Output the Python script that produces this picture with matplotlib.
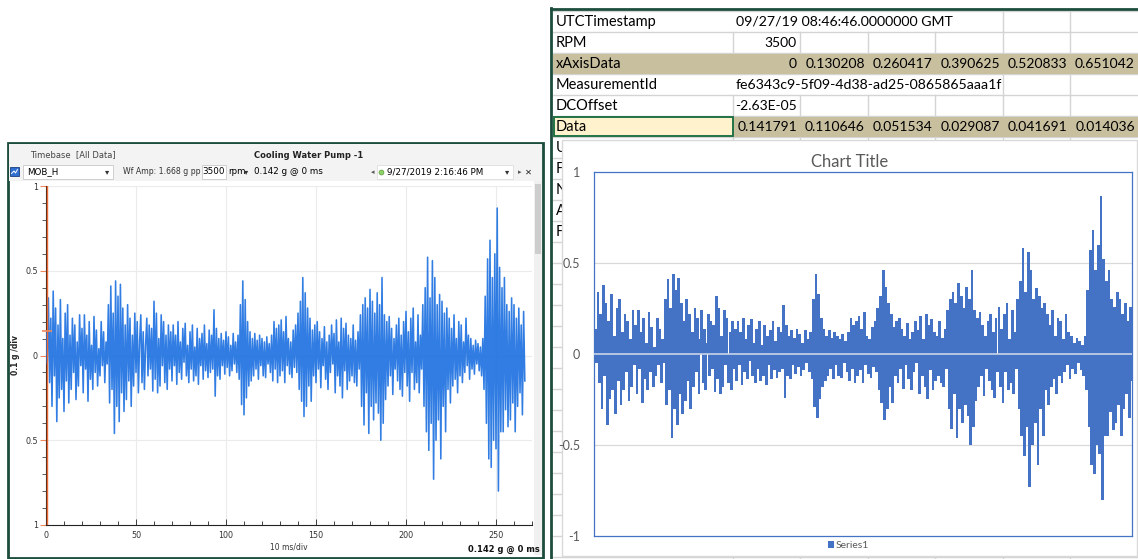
import matplotlib

matplotlib.use("Agg")

import matplotlib.pyplot as plt
import numpy as np
from matplotlib.patches import Rectangle

W, H = 1138, 559

# Waveform (g), 15 samples per 10 ms row
DURATION_MS = 266.67
samples_g = [
    0.14, -0.05, 0.34, -0.16, 0.22, -0.30, 0.38, -0.12, 0.28, -0.39, 0.18, -0.25, 0.33, -0.20, 0.10,
    -0.33, 0.25, -0.15, 0.30, -0.28, 0.12, -0.20, 0.22, -0.10, 0.18, -0.26, 0.08, -0.18, 0.24, -0.06,
    0.16, -0.22, 0.24, -0.08, 0.12, -0.27, 0.20, -0.14, 0.06, -0.20, 0.23, -0.10, 0.15, -0.18, 0.04,
    -0.12, 0.20, -0.06, 0.14, -0.16, 0.08, -0.05, 0.30, -0.28, 0.41, -0.20, 0.25, -0.46, 0.44, -0.30,
    0.35, -0.39, 0.42, -0.22, 0.28, -0.33, 0.18, -0.26, 0.30, -0.15, 0.22, -0.30, 0.12, -0.18, 0.25,
    -0.10, 0.20, -0.22, 0.08, 0.24, -0.16, 0.14, -0.20, 0.06, 0.22, -0.12, 0.18, -0.08, 0.16, -0.21,
    0.32, -0.14, 0.25, -0.22, 0.10, -0.18, 0.24, -0.06, 0.20, -0.16, 0.12, -0.20, 0.18, -0.08, 0.14,
    -0.15, 0.18, -0.06, 0.12, -0.17, 0.20, -0.10, 0.08, -0.14, 0.16, -0.04, 0.19, -0.12, 0.06, -0.16,
    0.14, -0.08, 0.18, -0.15, 0.05, -0.12, 0.16, -0.17, 0.10, -0.06, 0.13, -0.14, 0.18, -0.09, 0.07,
    -0.13, 0.15, -0.10, 0.12, -0.08, 0.27, -0.24, 0.16, -0.12, 0.10, -0.14, 0.13, -0.06, 0.09, -0.11,
    0.14, -0.07, 0.11, -0.12, 0.06, -0.09, 0.13, -0.05, 0.08, -0.10, 0.12, -0.14, 0.30, -0.29, 0.44,
    -0.35, 0.33, -0.25, 0.20, -0.18, 0.14, -0.15, 0.10, -0.12, 0.13, -0.08, 0.09, -0.14, 0.12, -0.06,
    0.10, -0.12, 0.08, -0.13, 0.11, -0.05, 0.07, -0.10, 0.12, -0.15, 0.20, -0.08, 0.16, -0.16, 0.18,
    -0.12, 0.21, -0.09, 0.14, -0.16, 0.23, -0.06, 0.10, -0.11, 0.08, -0.13, 0.15, -0.07, 0.18, -0.10,
    0.25, -0.20, 0.32, -0.27, 0.46, -0.36, 0.37, -0.30, 0.28, -0.18, 0.22, -0.27, 0.15, -0.12, 0.18,
    -0.16, 0.20, -0.08, 0.14, -0.19, 0.10, -0.06, 0.17, -0.14, 0.08, -0.20, 0.12, -0.10, 0.18, -0.05,
    0.13, -0.22, 0.21, -0.12, 0.08, -0.18, 0.22, -0.25, 0.16, -0.09, 0.19, -0.20, 0.12, -0.15, 0.10,
    -0.12, 0.18, -0.16, 0.09, -0.18, 0.14, -0.08, 0.24, -0.30, 0.30, -0.41, 0.34, -0.22, 0.28, -0.46,
    0.39, -0.30, 0.32, -0.38, 0.25, -0.28, 0.37, -0.34, 0.30, -0.50, 0.46, -0.40, 0.24, -0.26, 0.20,
    -0.18, 0.23, -0.12, 0.16, -0.23, 0.10, -0.08, 0.18, -0.15, 0.22, -0.20, 0.12, -0.24, 0.20, -0.10,
    0.26, -0.18, 0.14, -0.27, 0.22, -0.10, 0.28, -0.20, 0.08, -0.16, 0.24, -0.22, 0.12, -0.08, 0.30,
    -0.30, 0.40, -0.45, 0.58, -0.56, 0.34, -0.40, 0.56, -0.73, 0.46, -0.50, 0.30, -0.38, 0.36, -0.61,
    0.32, -0.30, 0.25, -0.45, 0.28, -0.20, 0.22, -0.28, 0.16, -0.18, 0.24, -0.14, 0.10, -0.22, 0.20,
    -0.12, 0.18, -0.16, 0.08, -0.10, 0.22, -0.06, 0.12, -0.14, 0.10, -0.08, 0.06, -0.11, 0.09, -0.05,
    0.07, -0.09, 0.05, -0.12, 0.10, -0.20, 0.35, -0.40, 0.57, -0.61, 0.68, -0.66, 0.46, -0.50, 0.60,
    -0.55, 0.87, -0.80, 0.52, -0.45, 0.40, -0.45, 0.46, -0.32, 0.30, -0.42, 0.26, -0.38, 0.34, -0.28,
    0.30, -0.45, 0.22, -0.30, 0.28, -0.22, 0.18, -0.35, 0.26, -0.15,
]

# Spreadsheet cells
row_names = ["UTCTimestamp", "RPM", "xAxisData", "MeasurementId", "DCOffset", "Data"]
utc_timestamp = "09/27/19 08:46:46.0000000 GMT"
rpm_value = "3500"
x_axis_values = ["0", "0.130208", "0.260417", "0.390625", "0.520833", "0.651042"]
measurement_id = "fe6343c9-5f09-4d38-ad25-0865865aaa1f"
dc_offset = "-2.63E-05"
data_values = ["0.141791", "0.110646", "0.051534", "0.029087", "0.041691", "0.014036"]
hidden_row_initials = ["U", "F", "N", "A", "F"]

# Axis ticks
left_yticks = [-1, -0.5, 0, 0.5, 1]
left_ytick_labels = ["1", "0.5", "0", "0.5", "1"]
left_xticks = [0, 50, 100, 150, 200, 250]
right_yticks = [-1, -0.5, 0, 0.5, 1]
right_ytick_labels = ["-1", "-0.5", "0", "0.5", "1"]

samples = np.array(samples_g)
step_ms = DURATION_MS / len(samples)
t_ms = np.arange(len(samples)) * step_ms


def px_rect(left, top, right, bottom):
    return [left / W, 1 - bottom / H, (right - left) / W, (bottom - top) / H]


fig = plt.figure(figsize=(W / 100, H / 100), dpi=100)
bg = fig.add_axes([0, 0, 1, 1])
bg.set_xlim(0, W)
bg.set_ylim(H, 0)
bg.axis("off")

# ---------------- spreadsheet ----------------
excel_font = "Lato"
grid_c = "#d4d4d4"
tan = "#c8bf9f"
col_edges = [553, 733, 800, 868, 935, 1003, 1070, 1138]
row_top = 11
row_h = 21
n_rows = (H - row_top) // row_h + 1
row_edges = [row_top + k * row_h for k in range(n_rows + 1)]

for y in row_edges:
    bg.plot([553, W], [y, y], color=grid_c, lw=1, zorder=1)
for r in range(n_rows):
    y0, y1 = row_edges[r], row_edges[r + 1]
    for x in col_edges[1:-1]:
        if r in (0, 3) and x < 1000:
            continue
        if r in (2, 5):
            continue
        bg.plot([x, x], [y0, y1], color=grid_c, lw=1, zorder=1)

for r in (2, 5):
    bg.add_patch(Rectangle((553, row_edges[r] + 1), W - 553, row_h - 1.5,
                           facecolor=tan, edgecolor="none", zorder=2))
bg.add_patch(Rectangle((554, row_edges[5] + 1), 733 - 554, row_h - 2,
                       facecolor="#fff2cc", edgecolor="#217346", lw=1.4, zorder=3))


def row_y(r):
    return row_edges[r] + row_h / 2 + 0.5


for r, name in enumerate(row_names):
    bg.text(556, row_y(r), name, family=excel_font, fontsize=10.5, va="center", ha="left", zorder=4)

num_size = 10
bg.text(736, row_y(0), utc_timestamp, family=excel_font, fontsize=10.2, va="center", zorder=4)
bg.text(797, row_y(1), rpm_value, family=excel_font, fontsize=num_size, va="center", ha="right", zorder=4)
bg.text(736, row_y(3), measurement_id, family=excel_font, fontsize=10.2, va="center", zorder=4)
bg.text(797, row_y(4), dc_offset, family=excel_font, fontsize=num_size, va="center", ha="right", zorder=4)
for i, (xv, dv) in enumerate(zip(x_axis_values, data_values)):
    x_right = col_edges[i + 2] - 3
    bg.text(x_right, row_y(2), xv, family=excel_font, fontsize=num_size, va="center", ha="right", zorder=4)
    bg.text(x_right, row_y(5), dv, family=excel_font, fontsize=num_size, va="center", ha="right", zorder=4)
for k, letter in enumerate(hidden_row_initials):
    bg.text(556, row_y(6 + k), letter, family=excel_font, fontsize=10.5, va="center", zorder=4)

# chart area covering the lower sheet
bg.add_patch(Rectangle((562, 140), W - 562 - 1, 556 - 140,
                       facecolor="white", edgecolor="#d9d9d9", lw=1, zorder=5))
bg.text(850, 162, "Chart Title", family=excel_font, fontsize=12, color="#595959",
        ha="center", va="center", zorder=6)
bg.add_patch(Rectangle((828, 541), 6, 7, facecolor="#4472c4", edgecolor="none", zorder=6))
bg.text(836, 545, "Series1", family=excel_font, fontsize=7.5, color="#595959",
        va="center", ha="left", zorder=6)

# spreadsheet window frame
frame_c = "#1d4d3c"
bg.plot([551.5, 551.5], [8, H], color=frame_c, lw=2, zorder=7)
bg.plot([551, W], [8.5, 8.5], color=frame_c, lw=2, zorder=7)

# ---------------- analyzer window ----------------
ui_font = "DejaVu Sans"
bg.add_patch(Rectangle((8, 143), 535, 415, facecolor="white", edgecolor=frame_c, lw=2, zorder=1))
bg.add_patch(Rectangle((9, 144), 533, 37, facecolor="#f3f3f3", edgecolor="none", zorder=2))
bg.text(30, 155, "Timebase  [All Data]", family=ui_font, fontsize=6, color="#444444",
        va="center", zorder=3)
bg.text(309, 155, "Cooling Water Pump -1", family=ui_font, fontsize=6, weight="bold",
        color="#222222", va="center", ha="center", zorder=3)

ty = 172
bg.add_patch(Rectangle((10, ty - 5), 9, 9, facecolor="#2f6fd0", edgecolor="#1a3f80", lw=0.6, zorder=3))
bg.plot([11.5, 14, 15.5, 17.5], [ty + 1.5, ty - 1, ty + 1, ty - 2.5], color="white", lw=0.7, zorder=4)
bg.add_patch(Rectangle((23, ty - 7), 90, 14, facecolor="white", edgecolor="#c8c8c8", lw=0.6, zorder=3))
bg.text(27, ty, "MOB_H", family=ui_font, fontsize=6.3, va="center", zorder=4)
bg.text(107, ty, "\u25be", family=ui_font, fontsize=6, va="center", ha="center", color="#333333", zorder=4)
bg.text(123, ty, "Wf Amp: 1.668 g pp", family=ui_font, fontsize=5.6, va="center", color="#333333", zorder=4)
bg.add_patch(Rectangle((202, ty - 7), 24, 14, facecolor="white", edgecolor="#c8c8c8", lw=0.6, zorder=3))
bg.text(214, ty, "3500", family=ui_font, fontsize=6.3, va="center", ha="center", zorder=4)
bg.text(228, ty, "rpm", family=ui_font, fontsize=6.3, va="center", zorder=4)
bg.text(246, ty, "\u25be", family=ui_font, fontsize=6, va="center", ha="center", color="#333333", zorder=4)
bg.text(254, ty, "0.142 g @ 0 ms", family=ui_font, fontsize=6.3, va="center", zorder=4)
bg.text(373, ty, "\u25c2", family=ui_font, fontsize=5, va="center", ha="center", color="#555555", zorder=4)
bg.add_patch(Rectangle((377, ty - 7), 136, 14, facecolor="white", edgecolor="#dddddd", lw=0.6, zorder=3))
bg.plot([381.5], [ty], marker="o", ms=3.5, mfc="#8fd36a", mec="#5a9a3a", mew=0.5, zorder=4)
bg.text(387, ty, "9/27/2019 2:16:46 PM", family=ui_font, fontsize=6.3, va="center", zorder=4)
bg.text(507, ty, "\u25be", family=ui_font, fontsize=6, va="center", ha="center", color="#333333", zorder=4)
bg.text(520, ty, "\u25b8", family=ui_font, fontsize=5, va="center", ha="center", color="#555555", zorder=4)
bg.text(528, ty, "\u2715", family=ui_font, fontsize=6, va="center", ha="center", color="#222222", zorder=4)

# scrollbar
bg.add_patch(Rectangle((534, 181), 8, 374, facecolor="#f0f0f0", edgecolor="none", zorder=3))
bg.add_patch(Rectangle((535, 184), 6, 70, facecolor="#cdcdcd", edgecolor="none", zorder=4))

bg.text(16, 355, "0.1 g /div", family=ui_font, fontsize=5.5, weight="bold", rotation=90,
        va="center", ha="center", color="#222222", zorder=3)
bg.text(289, 547, "10 ms/div", family=ui_font, fontsize=5.5, va="center", ha="center",
        color="#333333", zorder=3)
bg.text(540, 549, "0.142 g @ 0 ms", family=ui_font, fontsize=6, weight="bold", va="center",
        ha="right", color="#111111", zorder=3)

# ---------------- analyzer waveform ----------------
axL = fig.add_axes(px_rect(46, 186, 532, 525))
axL.set_facecolor("none")
axL.plot(t_ms, samples, color="#1a6fe0", lw=1.15, alpha=0.9, zorder=3)
axL.set_xlim(0, 270)
axL.set_ylim(-1, 1)
for g in (-0.5, 0, 0.5, 1):
    axL.axhline(g, color="#ebebeb", lw=0.8, zorder=1)
for g in left_xticks[1:]:
    axL.axvline(g, color="#ebebeb", lw=0.8, zorder=1)
axL.axvline(0.4, color="#ea6a35", lw=1.0, zorder=4)
axL.plot([0.4], [0.142], marker="_", ms=7, mew=1.2, color="#f08a5d", clip_on=False, zorder=5)
for side in ("top", "right"):
    axL.spines[side].set_visible(False)
axL.spines["left"].set_color("#3b2317")
axL.spines["bottom"].set_color("#222222")
axL.set_yticks(left_yticks)
axL.set_yticklabels(left_ytick_labels)
axL.set_yticks(np.arange(-1, 1.01, 0.1), minor=True)
axL.set_xticks(left_xticks)
axL.set_xticks(np.arange(0, 271, 10), minor=True)
axL.tick_params(axis="y", which="major", length=4, width=0.8, color="#f08a5d",
                labelsize=5.8, pad=2, labelcolor="#333333")
axL.tick_params(axis="y", which="minor", length=3, width=0.6, color="#444444")
axL.tick_params(axis="x", which="both", direction="in", length=3, width=0.6, color="#222222",
                labelsize=5.8, pad=4, labelcolor="#333333")
axL.tick_params(axis="x", which="major", length=4)
for lab in axL.get_xticklabels() + axL.get_yticklabels():
    lab.set_family(ui_font)

# ---------------- spreadsheet column chart ----------------
axR = fig.add_axes(px_rect(594, 172, 1132, 536))
axR.set_facecolor("white")
axR.bar(t_ms, samples, width=2 * step_ms, align="edge", color="#4472c4", lw=0, zorder=2)
axR.set_xlim(0, DURATION_MS)
axR.set_ylim(-1, 1)
for g in (-0.5, 0.5):
    axR.axhline(g, color="#d9d9d9", lw=0.9, zorder=1)
axR.axhline(0, color="#c9d3e8", lw=1.2, zorder=3)
for side in axR.spines.values():
    side.set_color("#4472c4")
    side.set_linewidth(0.9)
axR.set_xticks([])
axR.set_yticks(right_yticks)
axR.set_yticklabels(right_ytick_labels)
axR.tick_params(axis="y", length=0, pad=10, labelsize=9, labelcolor="#595959")
for lab in axR.get_yticklabels():
    lab.set_family(excel_font)

fig.savefig("out.png", dpi=100)
